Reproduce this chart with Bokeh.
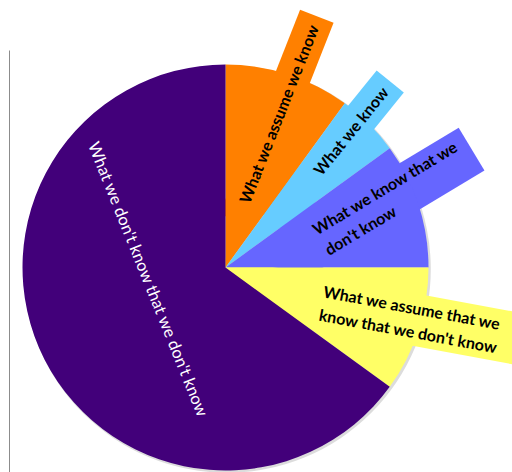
import numpy as np
from bokeh.plotting import figure
from bokeh.models import Range1d
from bokeh.embed import file_html
from bokeh.resources import INLINE
from bokeh.core.properties import value

# ---------------- data ----------------
labels = [
    "What we assume we know",
    "What we know",
    "What we know that we\ndon't know",
    "What we assume that we\nknow that we don't know",
    "What we don't know that we don't know",
]
values = [10, 5, 10, 10, 65]
colors = ["#FF8000", "#66CCFF", "#6666FF", "#FFFF66", "#42007A"]
text_colors = ["black", "black", "black", "black", "white"]

# ---------------- layout ----------------
CX, CY, R = 225, 205, 203
# text anchor in polar coords from pie centre (r, deg), text rotation (deg), alignment
lab_r = [162.9, 185.5, 98.2, 102.2, 77.9]
lab_phi = [71.0, 47.6, 16.1, -20.0, 188.9]
lab_rot = [68.5, 51.0, 31.0, -10.5, -68.0]
lab_align = ["center", "center", "left", "left", "center"]
lab_bold = [True, True, True, True, False]
lab_size = ["16px", "16px", "16px", "16px", "16.5px"]
# callout boxes: extent forward / backward of anchor along text axis, and thickness
box_fwd = [104.5, 63.0, 177.0, 230.0, None]
box_back = [115.0, 120.0, 60.0, 130.0, None]
box_w = [36.0, 35.0, 50.0, 52.0, None]

p = figure(width=512, height=472, x_range=Range1d(0, 512), y_range=Range1d(0, 472),
           output_backend="svg", toolbar_location=None, min_border=0,
           x_axis_type=None, y_axis_type=None)
p.grid.visible = False
p.outline_line_color = None
p.background_fill_color = "white"
p.border_fill_color = "white"

# thin frame line at left
p.segment(x0=[9], y0=[0], x1=[9], y1=[422], line_color="#8c8c8c", line_width=1)

# soft shadow
p.circle(x=[CX + 1.5], y=[CY - 1.5], radius=R + 0.8, fill_color="#9a9a9a",
         fill_alpha=0.35, line_color=None)

# label anchors
ax = [CX + r * np.cos(np.radians(f)) for r, f in zip(lab_r, lab_phi)]
ay = [CY + r * np.sin(np.radians(f)) for r, f in zip(lab_r, lab_phi)]

# callout boxes (behind the pie)
for i in range(len(labels)):
    if box_fwd[i] is None:
        continue
    th = np.radians(lab_rot[i])
    mid = (box_fwd[i] - box_back[i]) / 2.0
    bx = ax[i] + mid * np.cos(th)
    by = ay[i] + mid * np.sin(th)
    p.rect(x=[bx], y=[by], width=box_fwd[i] + box_back[i], height=box_w[i],
           angle=th, fill_color=colors[i], line_color=None)

# pie wedges (clockwise from 12 o'clock)
vals = np.array(values, dtype=float)
frac = vals / vals.sum()
cum = np.cumsum(frac)
start = np.pi / 2 - 2 * np.pi * (cum - frac)
end = np.pi / 2 - 2 * np.pi * cum
p.wedge(x=[CX] * len(vals), y=[CY] * len(vals), radius=R,
        start_angle=list(start), end_angle=list(end), direction="clock",
        fill_color=colors, line_color=None)

# texts
for i in range(len(labels)):
    p.text(x=[ax[i]], y=[ay[i]], text=[labels[i]], angle=[np.radians(lab_rot[i])],
           text_font=value("Lato"), text_font_size=lab_size[i],
           text_font_style="bold" if lab_bold[i] else "normal",
           text_align=lab_align[i], text_baseline="middle",
           text_color=text_colors[i], text_line_height=1.25)

open("out.html", "w").write(file_html(p, INLINE))
